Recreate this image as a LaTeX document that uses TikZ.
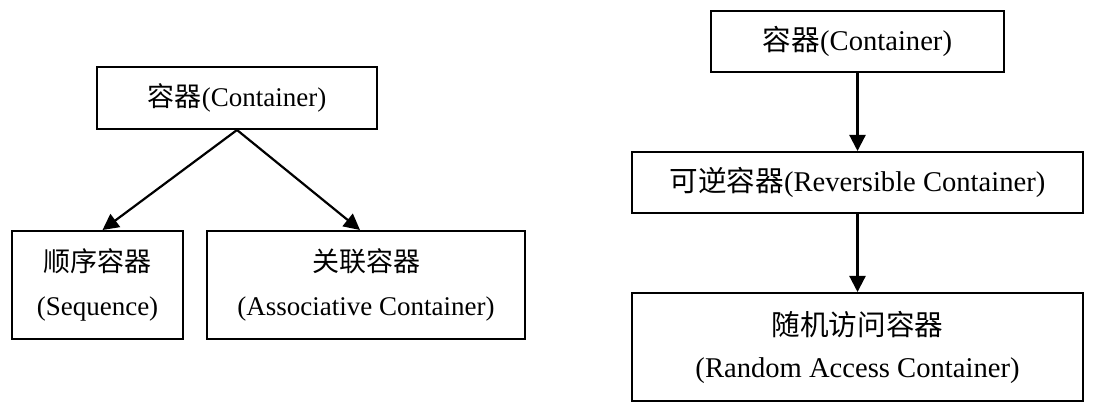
\documentclass[tikz,border=0pt]{standalone}
\usepackage{fontspec}
\setmainfont{Liberation Serif}
\newfontfamily\cjk{Noto Sans CJK SC}
\usetikzlibrary{arrows.meta}
\begin{document}
\begin{tikzpicture}[x=1pt,y=-1pt,
  box/.style={draw,line width=2pt,rectangle,inner sep=0pt,align=center},
  lfont/.style={font=\fontsize{27}{44}\selectfont},
  rfont/.style={font=\fontsize{28.6}{42}\selectfont},
  conn/.style={line width=2.2pt,-{Triangle[length=16pt,width=16pt]}}]
\useasboundingbox (0,0) rectangle (1094,411);
% left tree
\node[box,lfont,minimum width=280pt,minimum height=62pt] (cl) at (237,98) {{\cjk 容器}(Container)};
\node[box,lfont,minimum width=171pt,minimum height=108pt] (seq) at (97.5,285) {{\cjk 顺序容器}\\(Sequence)};
\node[box,lfont,minimum width=318pt,minimum height=108pt] (asc) at (366,285) {{\cjk 关联容器}\\(Associative Container)};
\draw[conn] (cl.south) -- ([xshift=5pt]seq.north);
\draw[conn] (cl.south) -- ([xshift=-6pt]asc.north);
% right chain
\node[box,rfont,minimum width=293pt,minimum height=61pt] (cr) at (857.5,41.5) {{\cjk 容器}(Container)};
\node[box,rfont,minimum width=451pt,minimum height=61pt] (rev) at (857.5,182.5) {{\cjk 可逆容器}(Reversible Container)};
\node[box,rfont,minimum width=451pt,minimum height=108pt] (ran) at (857.5,347) {{\cjk 随机访问容器}\\(Random Access Container)};
\draw[conn] (cr) -- (rev);
\draw[conn] (rev) -- (ran);
\end{tikzpicture}
\end{document}
